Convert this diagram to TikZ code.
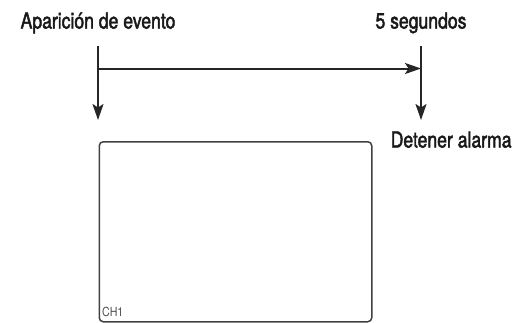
\documentclass[tikz,border=0pt]{standalone}
\usepackage{fontspec}
\setmainfont{TeX Gyre Heros}[FakeStretch=0.8, FakeBold=2]
\newfontfamily\chfont{TeX Gyre Heros}[FakeStretch=0.85]
\usetikzlibrary{arrows.meta}

\begin{document}
\begin{tikzpicture}[x=1pt, y=-1pt,
  lbl/.style={font=\fontsize{22}{25}\selectfont, text=black!90, inner sep=0pt},
  arr/.style={-{Stealth[length=16pt, width=11pt, inset=3.5pt]}, line width=2pt, draw=black!85},
  screen/.style={rectangle, draw=black!75, line width=1.5pt, rounded corners=4pt,
                 minimum width=272.5pt, minimum height=180pt, inner sep=0pt}
]
\useasboundingbox (0,0) rectangle (524,322);
\node[lbl, anchor=base] (evento) at (98,28.5) {Aparición de evento};
\node[lbl, anchor=base] (segundos) at (421,28.5) {5 segundos};
\node[lbl, anchor=base west] (detener) at (390.5,147.5) {Detener alarma};
\node[screen, anchor=north west] (monitor) at (98.5,141) {};
\node[font=\chfont\fontsize{12.5}{14}\selectfont, text=black!70, inner sep=0pt, anchor=base west] (canal) at (102,316.7) {CH1};

\coordinate (ini) at (98,46);
\coordinate (iniend) at (98,120);
\coordinate (fin) at (421,46);
\coordinate (finend) at (421,120);
\coordinate (hl) at (98,68.5);
\coordinate (hr) at (421,68.5);

\draw[arr] (ini) -- (iniend);
\draw[arr] (fin) -- (finend);
\draw[arr] (hl) -- (hr);
\end{tikzpicture}
\end{document}
